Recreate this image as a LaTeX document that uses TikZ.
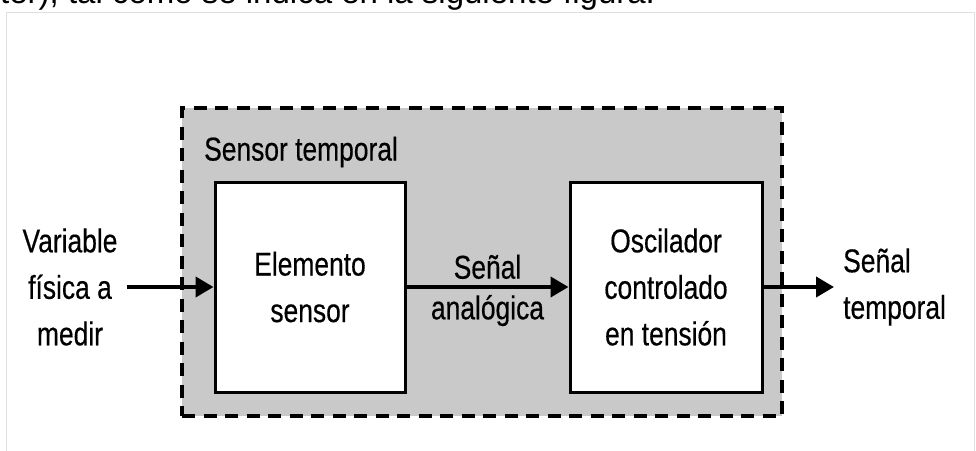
\documentclass[tikz,border=0pt]{standalone}
\usepackage{fontspec}
\setmainfont[FakeStretch=0.8, FakeBold=0.4]{Liberation Sans}
\newfontfamily\paginafont{Liberation Sans}
\usetikzlibrary{arrows.meta,positioning}
\tikzset{
  bloque/.style={draw=black, line width=3pt, fill=white, align=center,
    minimum width=190pt, minimum height=210pt, inner sep=0pt},
  senal/.style={line width=4pt, -{Triangle[length=18pt,width=20pt]}},
  etiqueta/.style={align=center, inner sep=0pt}
}
\begin{document}
\begin{tikzpicture}[x=1pt, y=-1pt, font=\fontsize{33}{46.5}\selectfont]
  \useasboundingbox (0,0) rectangle (976,450);
  \clip (0,0) rectangle (976,450);

  % texto cortado de la pagina y marco de la figura
  \node[anchor=base west, inner sep=0pt, font=\paginafont\fontsize{33}{36}\selectfont] (pagina) at (0,3)
    {ter), tal como se indica en la siguiente figura.};
  \draw[gray!25, line width=1pt] (6,12) rectangle (974,470);

  % caja del sensor temporal
  \node[draw=black, dashed, dash pattern=on 13pt off 8.5pt, line width=3.5pt,
        fill=gray!42, minimum width=600pt, minimum height=308pt] (sistema) at (482,262) {};
  \node[etiqueta, anchor=west] (titulo) at (204,152) {Sensor temporal};

  \node[bloque] (sensor) at (310,287) {Elemento\\sensor};
  \node[bloque, minimum width=192pt] (vco) at (666,287) {Oscilador\\controlado\\en tensi\'on};

  % entradas y salidas
  \node[etiqueta] (variable) at (70,287) {Variable\\f\'isica a\\medir};
  \coordinate (entrada) at (127,287);
  \coordinate (salida) at (834,287);
  \draw[senal] (entrada) -- (sensor.west);
  \draw[senal] (sensor.east) -- (vco.west)
    node[midway, above=6pt, etiqueta] {Se\~nal}
    node[midway, below=6pt, etiqueta] {anal\'ogica};
  \draw[senal] (vco.east) -- (salida);
  \node[etiqueta, align=left, anchor=west] (temporal) at (843,287) {Se\~nal\\temporal};
\end{tikzpicture}
\end{document}
